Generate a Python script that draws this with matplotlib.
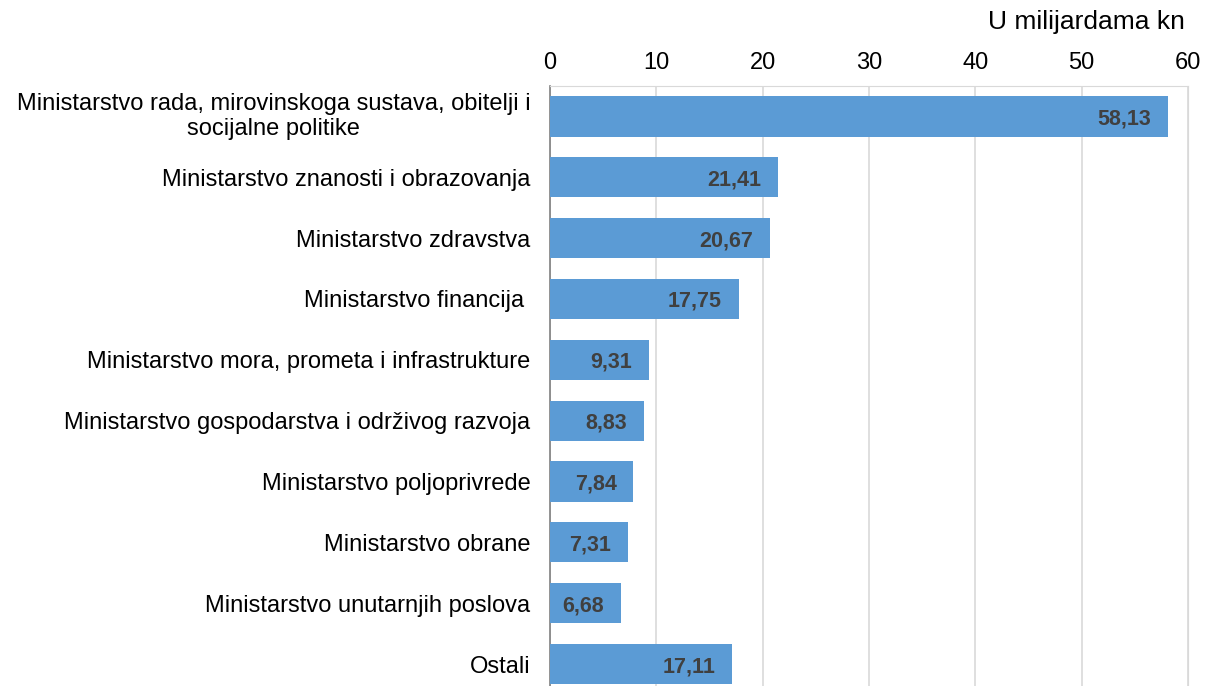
import matplotlib.pyplot as plt

plt.rcParams["font.family"] = ["Liberation Sans", "DejaVu Sans"]

categories = [
    "Ministarstvo rada, mirovinskoga sustava, obitelji i\nsocijalne politike",
    "Ministarstvo znanosti i obrazovanja",
    "Ministarstvo zdravstva",
    "Ministarstvo financija ",
    "Ministarstvo mora, prometa i infrastrukture",
    "Ministarstvo gospodarstva i održivog razvoja",
    "Ministarstvo poljoprivrede",
    "Ministarstvo obrane",
    "Ministarstvo unutarnjih poslova",
    "Ostali",
]
values = [58.13, 21.41, 20.67, 17.75, 9.31, 8.83, 7.84, 7.31, 6.68, 17.11]
xticks = [0, 10, 20, 30, 40, 50, 60]


def drawGraph():
    fig = plt.figure(figsize=(12.1, 6.86), dpi=100)
    ax = fig.add_axes([0.4545, -0.0124, 0.5273, 0.887])

    pos = list(range(len(values)))
    ax.barh(pos, values, height=0.66, color="#5B9BD5", zorder=3)

    # value labels inside bar ends
    for p, v in zip(pos, values):
        ax.annotate(
            ("%.2f" % v).replace(".", ","),
            xy=(v, p),
            xytext=(-12, 0),
            textcoords="offset points",
            ha="right",
            va="center_baseline",
            fontsize=15.5,
            fontweight="bold",
            color="#404040",
            zorder=4,
        )

    # category labels (drawn as text so the two-line one is centred)
    for p, name in zip(pos, categories):
        ax.annotate(
            name,
            xy=(0, p),
            xycoords=("axes fraction", "data"),
            xytext=(-14, 0),
            textcoords="offset points",
            ha="right",
            va="center_baseline" if "\n" not in name else "center",
            multialignment="center",
            fontsize=17,
            annotation_clip=False,
        )

    ax.set_xlim(0, 60)
    ax.set_ylim(len(values) - 0.5, -0.5)
    ax.set_xticks(xticks)
    ax.xaxis.tick_top()
    ax.tick_params(axis="x", length=0, labelsize=17, pad=9)
    ax.set_yticks(pos)
    ax.set_yticklabels([])
    ax.tick_params(axis="y", length=0)
    ax.grid(axis="x", color="#D9D9D9", linewidth=1.2, zorder=0)

    for side in ["top", "right", "bottom"]:
        ax.spines[side].set_color("#D9D9D9")
    ax.spines["left"].set_color("#808080")
    ax.spines["left"].set_linewidth(1.2)

    fig.text(0.979, 0.968, "U milijardama kn", ha="right", va="center", fontsize=19)

    fig.savefig("out.png", dpi=100)


if __name__ == "__main__":
    drawGraph()
